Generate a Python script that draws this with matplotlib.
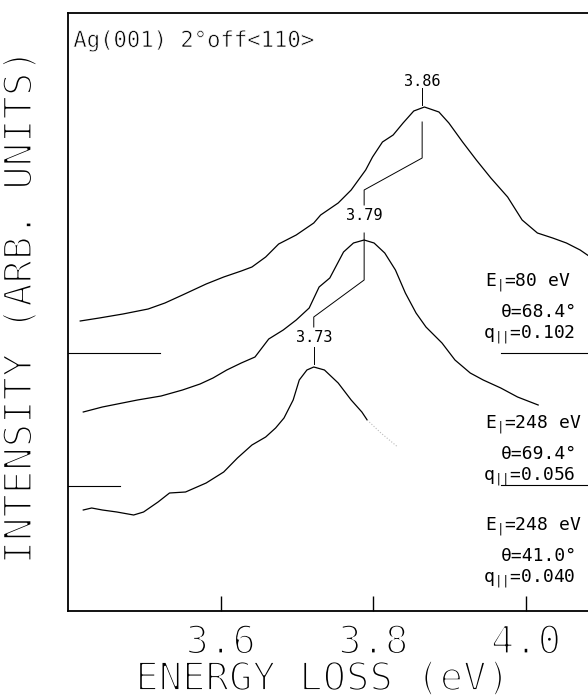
import numpy as np
import matplotlib.pyplot as plt
import matplotlib.patheffects as pe

plt.rcParams['font.family'] = ['DejaVu Sans Mono', 'DejaVu Sans']
plt.rcParams['mathtext.fontset'] = 'custom'
plt.rcParams['mathtext.rm'] = 'DejaVu Sans Mono'

# spectra (energy loss in eV, intensity in arb. units)
e_80 = [3.416, 3.441, 3.472, 3.505, 3.527, 3.550, 3.581, 3.604, 3.627, 3.641,
        3.659, 3.676, 3.699, 3.722, 3.731, 3.754, 3.771, 3.790, 3.799, 3.812,
        3.826, 3.839, 3.853, 3.867, 3.886, 3.899, 3.917, 3.935, 3.954, 3.976,
        3.995, 4.015, 4.035, 4.053, 4.071, 4.090, 4.106]
i_80 = [290, 293, 297, 302, 308, 316, 327, 334, 340, 344,
        354, 367, 376, 388, 396, 408, 421, 441, 454, 469,
        476, 488, 500, 504, 499, 488, 469, 451, 433, 414,
        391, 378, 373, 368, 361, 351, 339]

e_248a = [3.420, 3.445, 3.491, 3.522, 3.550, 3.573, 3.590, 3.608, 3.627, 3.645,
          3.663, 3.682, 3.699, 3.716, 3.729, 3.743, 3.752, 3.761, 3.774, 3.788,
          3.801, 3.815, 3.829, 3.842, 3.856, 3.869, 3.890, 3.907, 3.927, 3.944,
          3.967, 3.989, 4.016]
i_248a = [199, 204, 211, 215, 221, 227, 233, 241, 248, 254,
          272, 281, 291, 303, 324, 333, 346, 359, 368, 371,
          368, 358, 341, 318, 298, 284, 268, 251, 238, 231,
          223, 214, 206]

e_248b = [3.420, 3.431, 3.445, 3.464, 3.486, 3.499, 3.518, 3.533, 3.554, 3.581,
          3.604, 3.622, 3.641, 3.659, 3.672, 3.683, 3.695, 3.703, 3.713, 3.722,
          3.736, 3.754, 3.771, 3.785, 3.792]
i_248b = [101, 103, 101, 99, 96, 99, 109, 118, 119, 128,
          139, 153, 166, 174, 183, 193, 211, 231, 241, 244,
          241, 228, 211, 199, 191]
e_tail = [3.792, 3.810, 3.832]
i_tail = [191, 178, 164]

# peak positions and the connecting guide
peaks = [3.864, 3.788, 3.722]
peak_labels = ['3.86', '3.79', '3.73']
guide_e = [3.864, 3.864, 3.788, 3.788]
guide_i = [489, 453, 421, 406]
guide2_e = [3.788, 3.788, 3.788, 3.722, 3.722]
guide2_i = [378, 331, 331, 294, 284]

base_hi = 258
base_lo = 125

thin = [pe.Stroke(linewidth=1.6, foreground='white')]

fig = plt.figure(figsize=(5.88, 6.98), dpi=100)
ax = fig.add_axes([68/588, 1-611/698, 540/588, 598/698])

ax.plot(e_80, i_80, color='black', linewidth=0.9)
ax.plot(e_248a, i_248a, color='black', linewidth=0.9)
ax.plot(e_248b, i_248b, color='black', linewidth=0.9)
ax.plot(e_tail, i_tail, color='#bbbbbb', linewidth=0.8, linestyle=':')

# baselines
ax.plot([3.40, 3.521], [base_hi, base_hi], color='black', linewidth=0.8)
ax.plot([3.967, 4.11], [base_hi, base_hi], color='black', linewidth=0.8)
ax.plot([3.40, 3.468], [base_lo, base_lo], color='black', linewidth=0.8)
ax.plot([3.967, 4.11], [base_lo + 1, base_lo + 1], color='black', linewidth=0.8)

# peak markers
ax.plot([peaks[0], peaks[0]], [523, 506], color='black', linewidth=0.7)
ax.plot(guide_e, guide_i, color='black', linewidth=0.7)
ax.plot(guide2_e, guide2_i, color='black', linewidth=0.7)
ax.plot([peaks[2], peaks[2]], [264, 247], color='black', linewidth=0.7)
ax.text(peaks[0], 530, peak_labels[0], ha='center', va='center', fontsize=11)
ax.text(peaks[1], 396, peak_labels[1], ha='center', va='center', fontsize=11)
ax.text(peaks[2], 274, peak_labels[2], ha='center', va='center', fontsize=11)

ax.text(3.407, 570, 'Ag(001) 2°off<110>', ha='left', va='center', fontsize=16,
        path_effects=[pe.Stroke(linewidth=0.5, foreground='white')])

blocks = [
    (328, ['E$_{\\rm|}$=80 eV', 'θ=68.4°', 'q$_{\\rm||}$=0.102']),
    (186, ['E$_{\\rm|}$=248 eV', 'θ=69.4°', 'q$_{\\rm||}$=0.056']),
    (84, ['E$_{\\rm|}$=248 eV', 'θ=41.0°', 'q$_{\\rm||}$=0.040']),
]
for y0, lines in blocks:
    ax.text(3.947, y0, lines[0], ha='left', va='center', fontsize=13)
    ax.text(3.967, y0 - 29, lines[1], ha='left', va='center', fontsize=13)
    ax.text(3.944, y0 - 52, lines[2], ha='left', va='center', fontsize=13)

ax.set_xlim(3.40, 4.1075)
ax.set_ylim(0, 598)
ax.set_xticks([3.6, 3.8, 4.0])
ax.set_xticklabels(['3.6', '3.8', '4.0'], fontsize=28)
for t in ax.get_xticklabels():
    t.set_path_effects(thin)
ax.set_yticks([])
ax.tick_params(axis='x', direction='in', length=11, width=1, pad=9)
ax.spines['right'].set_visible(False)
for s in ['left', 'bottom', 'top']:
    ax.spines[s].set_linewidth(1.3)

ax.set_xlabel('ENERGY LOSS (eV)', fontsize=28, path_effects=thin)
ax.xaxis.set_label_coords(0.471, -0.114)
ax.xaxis.label.set_va('center')
ax.set_ylabel('INTENSITY (ARB. UNITS)', fontsize=28, path_effects=thin)
ax.yaxis.set_label_coords(-0.088, 0.508)
ax.yaxis.label.set_va('center')

fig.savefig('out.png', dpi=100)
